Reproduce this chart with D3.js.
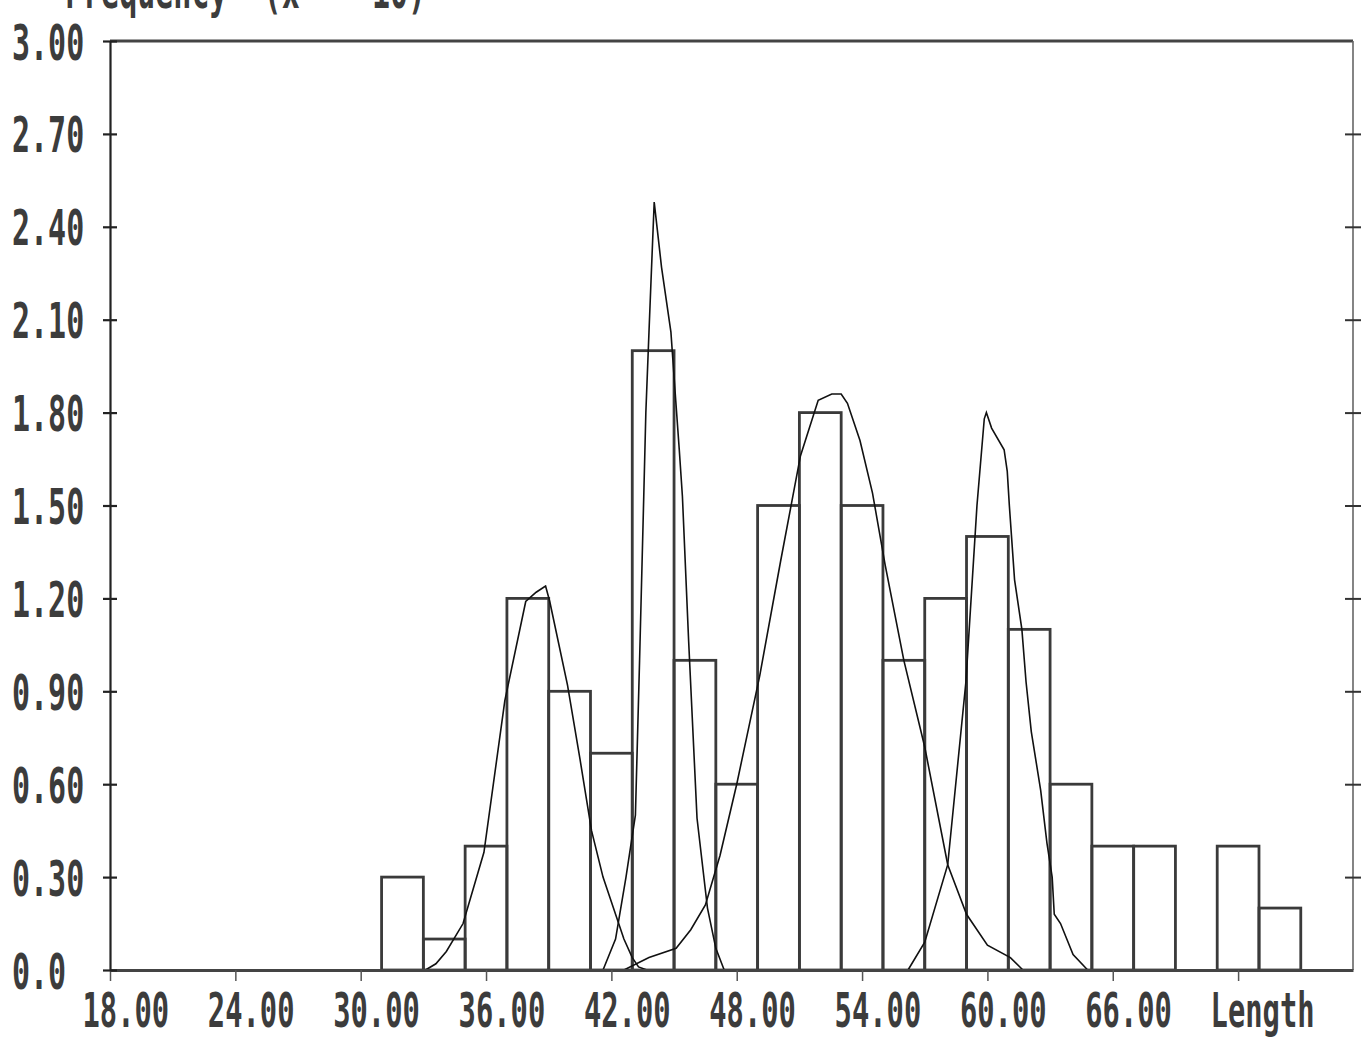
<!DOCTYPE html>
<html>
<head>
<meta charset="utf-8">
<script src="https://cdn.jsdelivr.net/npm/d3@7"></script>
<style>
  html, body { margin: 0; padding: 0; background: #fff; }
  svg { display: block; }
  text { font-family: "DejaVu Sans Mono", "Liberation Mono", monospace; font-weight: bold; fill: #3c3c3c; white-space: pre; }
</style>
</head>
<body>
<svg id="chart" width="1367" height="1039"></svg>
<script>
// Length-frequency histogram: lower edge of each 2-unit length class
const binStart = [31, 33, 35, 37, 39, 41, 43, 45, 47, 49, 51, 53, 55, 57, 59, 61, 63, 65, 67, 69, 71, 73];
const binWidth = 2;
// Frequency per class (x 10)
const frequency = [0.30, 0.10, 0.40, 1.20, 0.90, 0.70, 2.00, 1.00, 0.60, 1.50, 1.80, 1.50, 1.00, 1.20, 1.40, 1.10, 0.60, 0.40, 0.40, 0.00, 0.40, 0.20];

// Fitted component curves, as [length, frequency] vertices
const componentA = [[33.1, 0], [33.6, 0.02], [34.1, 0.06], [34.9, 0.15], [35.9, 0.38], [36.9, 0.87], [37.9, 1.19], [38.4, 1.22], [38.85, 1.24], [39.05, 1.19], [39.9, 0.92], [40.5, 0.68], [41.05, 0.45], [41.6, 0.30], [42.2, 0.18], [42.6, 0.10], [43.0, 0.04], [43.3, 0.01], [43.7, 0]];
const componentB = [[41.6, 0], [42.2, 0.10], [42.7, 0.30], [43.15, 0.50], [43.35, 1.00], [43.55, 1.53], [43.65, 1.80], [43.8, 2.06], [43.9, 2.23], [44.05, 2.48], [44.2, 2.39], [44.4, 2.27], [44.85, 2.06], [45.08, 1.84], [45.25, 1.68], [45.4, 1.53], [45.7, 1.06], [46.1, 0.49], [46.6, 0.20], [47.0, 0.07], [47.4, 0]];
const componentC = [[42.6, 0], [43.2, 0.02], [43.8, 0.04], [45.1, 0.07], [45.8, 0.13], [46.5, 0.21], [47.2, 0.37], [48.0, 0.60], [49.1, 0.95], [50.1, 1.32], [51.05, 1.66], [51.9, 1.84], [52.55, 1.86], [53.0, 1.86], [53.3, 1.83], [53.9, 1.71], [54.5, 1.54], [55.1, 1.31], [56.0, 1.00], [57.0, 0.72], [58.1, 0.34], [59.0, 0.18], [60.0, 0.08], [61.1, 0.04], [61.7, 0]];
const componentD = [[56.2, 0], [57.0, 0.09], [58.1, 0.34], [58.97, 0.93], [59.5, 1.50], [59.85, 1.78], [59.95, 1.80], [60.2, 1.75], [60.8, 1.68], [60.95, 1.61], [61.05, 1.50], [61.3, 1.26], [61.65, 1.10], [61.85, 0.93], [62.1, 0.77], [62.55, 0.58], [62.85, 0.41], [63.1, 0.30], [63.2, 0.18], [63.5, 0.15], [64.1, 0.05], [64.8, 0]];

// Axis ticks and their labels
const xTickValues = [18, 24, 30, 36, 42, 48, 54, 60, 66, 72];
const xTickLabels = ["18.00", "24.00", "30.00", "36.00", "42.00", "48.00", "54.00", "60.00", "66.00", "Length"];
const yTickValues = [0, 0.3, 0.6, 0.9, 1.2, 1.5, 1.8, 2.1, 2.4, 2.7, 3.0];
const yTickLabels = ["0.0", "0.30", "0.60", "0.90", "1.20", "1.50", "1.80", "2.10", "2.40", "2.70", "3.00"];
const yTitle = "Frequency  (x    10)";

const svg = d3.select("#chart");
const fontSize = 50;
const squeeze = 0.6; // narrow printer-style lettering

const x = d3.scaleLinear().domain([18, 77.5]).range([110, 1353]);
const y = d3.scaleLinear().domain([0, 3]).range([970, 41]);

// Histogram outlines
svg.append("g")
  .selectAll("rect")
  .data(binStart.map((s, i) => ({ s, f: frequency[i] })).filter(d => d.f > 0))
  .join("rect")
  .attr("x", d => x(d.s))
  .attr("y", d => y(d.f))
  .attr("width", d => x(d.s + binWidth) - x(d.s))
  .attr("height", d => y(0) - y(d.f))
  .attr("fill", "none")
  .attr("stroke", "#3a3a3a")
  .attr("stroke-width", 2.8);

// Component curves
const line = d3.line().x(d => x(d[0])).y(d => y(d[1]));
svg.append("g")
  .selectAll("path")
  .data([componentA, componentB, componentC, componentD])
  .join("path")
  .attr("d", line)
  .attr("fill", "none")
  .attr("stroke", "#111")
  .attr("stroke-width", 1.6)
  .attr("stroke-linejoin", "miter");

// Frame: top and right borders
const [x0, x1] = x.range();
const [yb, yt] = y.range();
svg.append("line").attr("x1", x0).attr("x2", x1).attr("y1", yt).attr("y2", yt)
  .attr("stroke", "#444").attr("stroke-width", 3);
svg.append("line").attr("x1", x1).attr("x2", x1).attr("y1", yt).attr("y2", yb)
  .attr("stroke", "#666").attr("stroke-width", 1.6);

// Bottom axis
const gx = svg.append("g").attr("transform", `translate(0,${yb})`)
  .call(d3.axisBottom(x).tickValues(xTickValues).tickSize(11).tickSizeOuter(0)
    .tickFormat((d, i) => xTickLabels[i]));
gx.select(".domain").attr("stroke", "#444").attr("stroke-width", 3);
gx.selectAll(".tick line").attr("stroke", "#555").attr("stroke-width", 1.5);
gx.selectAll(".tick text")
  .attr("font-size", 48)
  .attr("text-anchor", "start")
  .attr("x", -28 / squeeze)
  .attr("y", 57)
  .attr("dy", 0)
  .attr("transform", `scale(${squeeze},1)`);

// Left axis
const gy = svg.append("g").attr("transform", `translate(${x0},0)`)
  .call(d3.axisLeft(y).tickValues(yTickValues).tickSizeOuter(0)
    .tickFormat((d, i) => yTickLabels[i]));
gy.select(".domain").attr("stroke", "#222").attr("stroke-width", 2.2);
gy.selectAll(".tick line").attr("x1", -7).attr("x2", 7).attr("stroke", "#222").attr("stroke-width", 2.2);
gy.selectAll(".tick text")
  .attr("font-size", fontSize)
  .attr("text-anchor", "start")
  .attr("x", (12 - x0) / squeeze)
  .attr("dy", "0.36em")
  .attr("transform", `scale(${squeeze},1)`);

// Right axis ticks
const gr = svg.append("g").attr("transform", `translate(${x1},0)`)
  .call(d3.axisRight(y).tickValues(yTickValues.filter(v => v > 0 && v < 3)).tickSizeOuter(0).tickFormat(""));
gr.select(".domain").remove();
gr.selectAll(".tick line").attr("x1", -8).attr("x2", 8).attr("stroke", "#333").attr("stroke-width", 2);

// Axis title at the top left, running off the top edge
svg.append("text")
  .attr("font-size", fontSize)
  .attr("x", 65 / squeeze)
  .attr("y", 8)
  .attr("transform", `scale(${squeeze},1)`)
  .text(yTitle);
</script>
</body>
</html>
